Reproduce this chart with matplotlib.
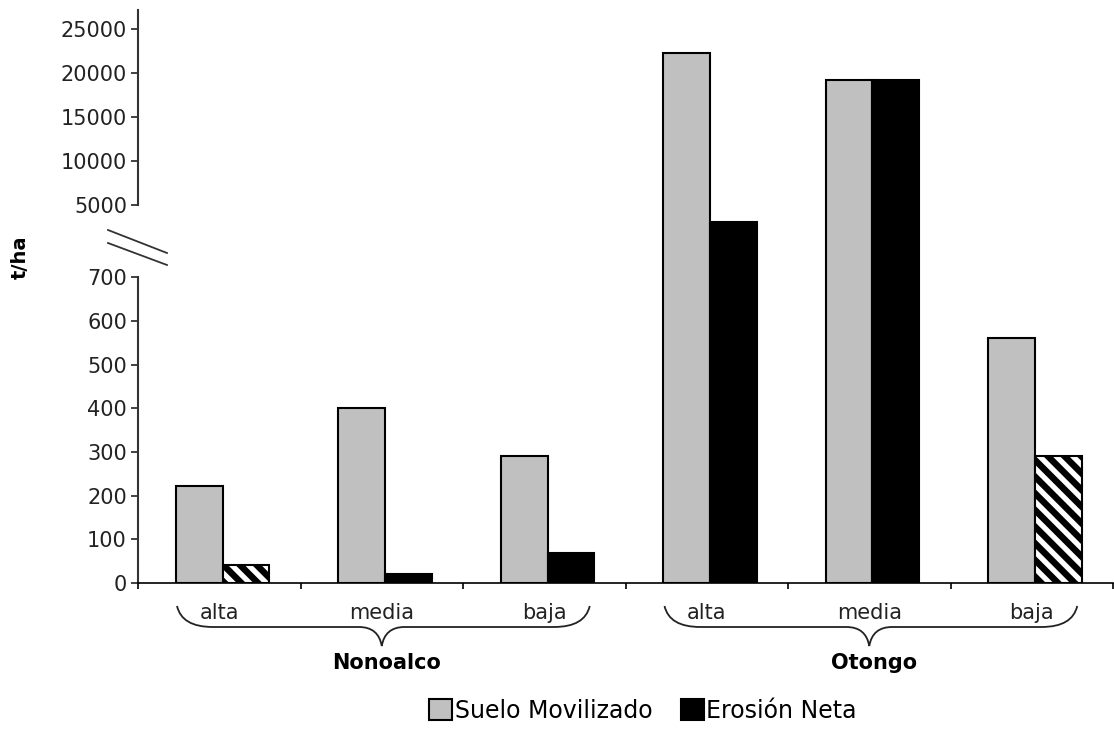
import numpy as np
import matplotlib
matplotlib.use('Agg')
import matplotlib.pyplot as plt
from matplotlib.path import Path
from matplotlib.patches import PathPatch, Patch
from matplotlib.lines import Line2D
from matplotlib.transforms import blended_transform_factory

# soil moved vs net erosion per slope class at two sites
sites = ['Nonoalco', 'Otongo']
categories = ['alta', 'media', 'baja', 'alta', 'media', 'baja']
suelo = [222, 400, 290, 22300, 19200, 560]
erosion = [41, 20, 68, 3980, 19200, 290]
hatched = [True, False, False, False, False, True]
low_ticks = [0, 100, 200, 300, 400, 500, 600, 700]
high_ticks = [5000, 10000, 15000, 20000, 25000]

# broken y axis: 0-700 and 5000-27200 stretched differently, squeezed gap between
yk = [0, 700, 5000, 27200]
pk = [0, 306, 378, 573.5]

def fwd(v):
    return np.interp(v, yk, pk)

def inv(p):
    return np.interp(p, pk, yk)

plt.rcParams['font.family'] = 'DejaVu Sans'
plt.rcParams['hatch.linewidth'] = 3.8

fig = plt.figure(figsize=(11.14, 7.35), dpi=100)
ax = fig.add_axes([138 / 1114, 152 / 735, (1113 - 138) / 1114, (725 - 152) / 735])
ax.set_yscale('function', functions=(fwd, inv))

x = np.arange(len(categories)) + 0.52
w = 0.288
grey = '#c0c0c0'

ax.bar(x - w / 2, suelo, w, color=grey, edgecolor='black', linewidth=1.5, zorder=2)
for xi, v, h in zip(x, erosion, hatched):
    if h:
        ax.bar(xi + w / 2, v, w, color='black', edgecolor='white', hatch='\\\\', linewidth=0, zorder=2)
        ax.bar(xi + w / 2, v, w, fill=False, edgecolor='black', linewidth=1.5, zorder=3)
    else:
        ax.bar(xi + w / 2, v, w, color='black', edgecolor='black', linewidth=1.5, zorder=2)

ax.set_xlim(0, 6)
ax.set_ylim(0, 27200)

# axes frame: only bottom line plus two pieces of the left spine
for s in ['top', 'right', 'left']:
    ax.spines[s].set_visible(False)
ax.spines['bottom'].set_linewidth(1.2)
ytr = ax.get_yaxis_transform()
ax.plot([0, 0], [0, 700], color='#333333', lw=1.5, transform=ytr, clip_on=False)
ax.plot([0, 0], [5000, 27200], color='#333333', lw=1.5, transform=ytr, clip_on=False)

ax.set_yticks(low_ticks + high_ticks)
ax.set_yticklabels([str(t) for t in low_ticks + high_ticks])
ax.tick_params(axis='y', length=5, width=1.2, labelsize=15, pad=3, colors='#222222')
ax.set_xticks(np.arange(0, 7))
ax.set_xticklabels([])
ax.tick_params(axis='x', length=4, width=1.2)

# slope class labels and braces grouping them by site
btr = blended_transform_factory(ax.transData, fig.transFigure)
for xi, c in zip(x, categories):
    ax.text(xi - 0.02, 1 - 613 / 735, c, transform=btr, ha='center', va='center',
            fontsize=15, color='#222222')

y_top, y_mid, y_tip = 1 - 606 / 735, 1 - 627 / 735, 1 - 646 / 735
for i, site in enumerate(sites):
    xc = 1.5 + 3 * i
    x0, x1 = xc - 1.26, xc + 1.28
    verts = [(x0, y_top), (x0 + 0.03, y_mid), (x0 + 0.22, y_mid),
             (xc - 0.14, y_mid),
             (xc - 0.02, y_mid), (xc, y_tip),
             (xc + 0.02, y_mid), (xc + 0.14, y_mid),
             (x1 - 0.22, y_mid),
             (x1 - 0.03, y_mid), (x1, y_top)]
    codes = [Path.MOVETO, Path.CURVE3, Path.CURVE3, Path.LINETO,
             Path.CURVE3, Path.CURVE3, Path.CURVE3, Path.CURVE3,
             Path.LINETO, Path.CURVE3, Path.CURVE3]
    ax.add_patch(PathPatch(Path(verts, codes), transform=btr, fill=False,
                           lw=1.3, edgecolor='#222222', clip_on=False))
    ax.text(xc + 0.03, 1 - 663 / 735, site, transform=btr, ha='center', va='center',
            fontsize=15, fontweight='bold')

# break marks between the two y ranges
for y0, y1 in [(230, 253), (243, 265)]:
    fig.add_artist(Line2D([108 / 1114, 167 / 1114], [1 - y0 / 735, 1 - y1 / 735],
                          color='#333333', lw=1.3))

fig.text(0.018, 1 - 257 / 735, 't/ha', rotation=90, fontsize=14, fontweight='bold',
         ha='center', va='center')

handles = [Patch(facecolor=grey, edgecolor='black', lw=1.5),
           Patch(facecolor='black', edgecolor='black', lw=1.5)]
fig.legend(handles, ['Suelo Movilizado', 'Erosión Neta'], loc='lower center',
           bbox_to_anchor=(0.577, -0.012), ncol=2, frameon=False, fontsize=17,
           handlelength=1.0, handleheight=1.0, handletextpad=0.1, columnspacing=1.2)

fig.savefig('out.png', dpi=100)
